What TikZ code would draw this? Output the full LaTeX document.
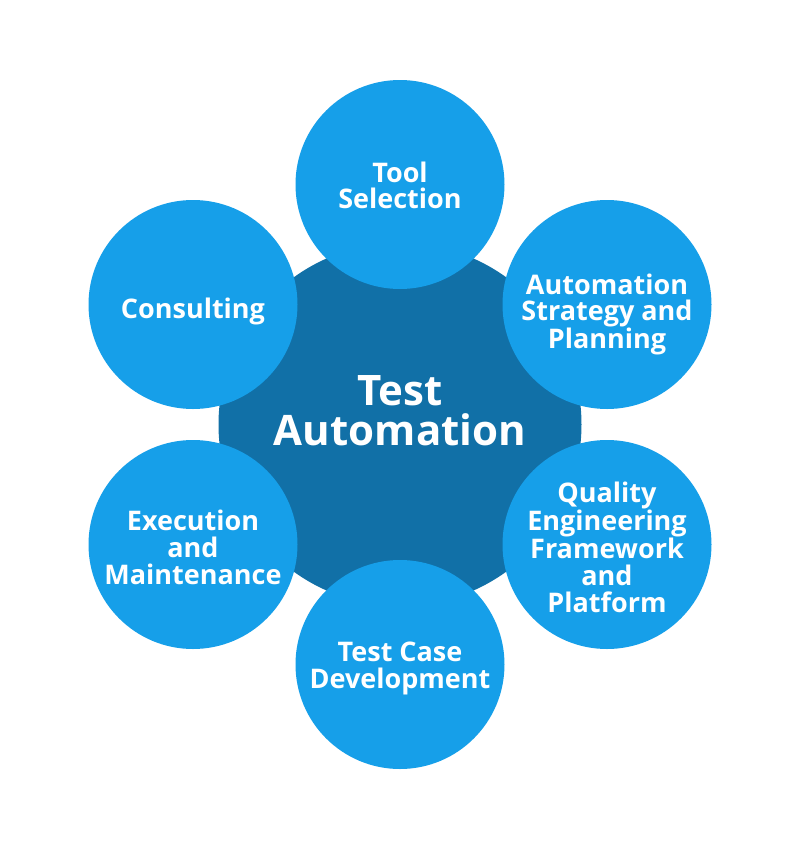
\documentclass[tikz,border=0pt]{standalone}
\usepackage{fontspec}
\setmainfont{Open Sans}
\definecolor{lightblue}{RGB}{22,159,233}
\definecolor{darkblue}{RGB}{17,112,167}
\begin{document}
\begin{tikzpicture}[x=1pt,y=-1pt,
  hub/.style={circle,fill=darkblue,minimum size=363pt,inner sep=0pt},
  hubtext/.style={text=white,align=center,inner sep=0pt,
    font=\bfseries\fontsize{42}{40}\selectfont},
  petal/.style={circle,fill=lightblue,minimum size=209pt,inner sep=0pt},
  petaltext/.style={text=white,align=center,inner sep=0pt,
    font=\bfseries\fontsize{27}{26.7}\selectfont}]
\useasboundingbox[fill=white] (0,0) rectangle (800,849);
\node[hub] (c) at (400,424.5) {};
\node[hubtext] (ct) at ([yshift=14pt]c.center) {Test\\Automation};
\node[petal] (tool) at (400,184.5) {};
\node[petal] (strat) at (607,304.5) {};
\node[petal] (qual) at (607,544.5) {};
\node[petal] (dev) at (400,664.5) {};
\node[petal] (exec) at (193,544.5) {};
\node[petal] (cons) at (193,304.5) {};
\node[petaltext] (toolt) at ([yshift=-1pt]tool.center) {Tool\\Selection};
\node[petaltext] (stratt) at ([yshift=-10pt]strat.center) {Automation\\Strategy and\\Planning};
\node[petaltext] (qualt) at ([yshift=-3pt]qual.center) {Quality\\Engineering\\Framework\\and\\Platform};
\node[petaltext] (devt) at ([yshift=-4pt]dev.center) {Test Case\\Development};
\node[petaltext] (exect) at ([yshift=-3pt]exec.center) {Execution\\and\\Maintenance};
\node[petaltext] (const) at ([yshift=-7pt]cons.center) {Consulting};
\end{tikzpicture}
\end{document}
